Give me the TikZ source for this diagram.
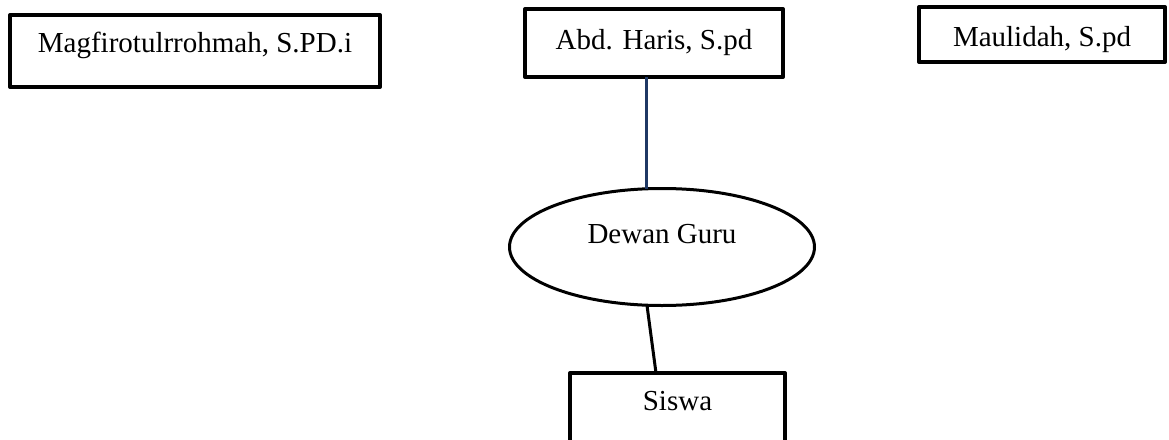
\documentclass[tikz,border=0pt]{standalone}
\usepackage{fontspec}
\setmainfont{Liberation Serif}
\usetikzlibrary{shapes.geometric}
\definecolor{linknavy}{RGB}{31,56,100}
\begin{document}
\begin{tikzpicture}[x=1pt,y=-1pt,
  every node/.style={font=\fontsize{29}{34}\selectfont, inner sep=0pt, outer sep=0pt},
  namebox/.style={draw=black, line width=4pt, line join=round, rectangle, fill=white, anchor=base},
  council/.style={draw=black, line width=3pt, ellipse, fill=white, anchor=base},
  plainlink/.style={draw=black, line width=3pt},
  navylink/.style={draw=linknavy, line width=3pt}]
\useasboundingbox (0,0) rectangle (1169,439);

% staff boxes along the top
\node[namebox, minimum width=370pt, text height=37pt, text depth=35pt] (mag) at (195,52) {Magfirotulrrohmah, S.PD.i};
\node[namebox, minimum width=258pt, text height=40pt, text depth=28pt] (abd) at (654,49) {Abd. Haris, S.pd};
\node[namebox, minimum width=246pt, text height=39pt, text depth=16pt] (mau) at (1042,46) {Maulidah, S.pd};

% teachers' council and students
\node[council, minimum width=305pt, minimum height=117pt, text height=10pt, text depth=18pt] (dewan) at (662,243) {Dewan Guru};
\node[namebox, minimum width=215pt, text height=37pt, text depth=35pt] (siswa) at (677.5,410) {Siswa};

% connectors
\draw[navylink] ([xshift=-8pt]abd.south) -- ([xshift=-16pt]dewan.north);
\draw[plainlink] ([xshift=-15pt]dewan.south) -- ([xshift=-21.5pt]siswa.north);
\end{tikzpicture}
\end{document}
